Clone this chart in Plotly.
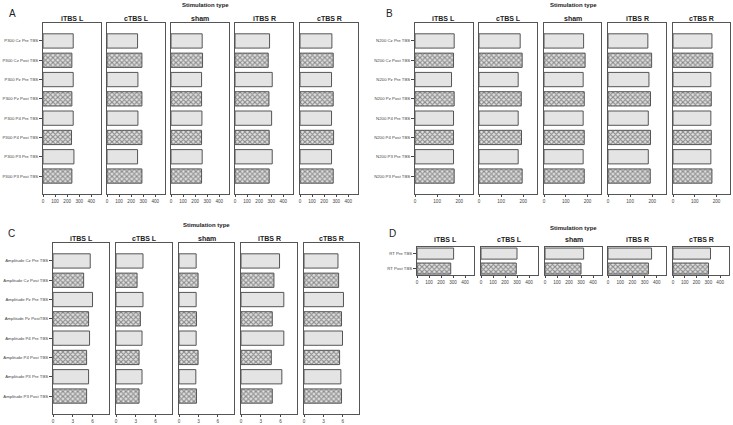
import plotly.graph_objects as go

W, H = 733, 425

stim_types = ["iTBS L", "cTBS L", "sham", "iTBS R", "cTBS R"]

labels_A = ["P300 Cz Pre TBS", "P300 Cz Post TBS", "P300 Pz Pre TBS", "P300 Pz Post TBS",
            "P300 P4 Pre TBS", "P300 P4 Post TBS", "P300 P3 Pre TBS", "P300 P3 Post TBS"]
labels_B = ["N200 Cz Pre TBS", "N200 Cz Post TBS", "N200 Pz Pre TBS", "N200 Pz Post TBS",
            "N200 P4 Pre TBS", "N200 P4 Post TBS", "N200 P3 Pre TBS", "N200 P3 Post TBS"]
labels_C = ["Amplitude Cz Pre TBS", "Amplitude Cz Post TBS", "Amplitude Pz Pre TBS", "Amplitude Pz PostTBS",
            "Amplitude P4 Pre TBS", "Amplitude P4 Post TBS", "Amplitude P3 Pre TBS", "Amplitude P3 Post TBS"]
labels_D = ["RT Pre TBS", "RT Post TBS"]

# Panel A: P300 latency
p300_itbsL = [250, 239, 250, 239, 250, 236, 256, 239]
p300_ctbsL = [253, 289, 256, 289, 256, 289, 253, 289]
p300_sham = [258, 261, 253, 253, 256, 253, 258, 253]
p300_itbsR = [286, 275, 308, 281, 303, 283, 308, 283]
p300_ctbsR = [264, 275, 261, 275, 261, 278, 261, 275]

# Panel B: N200 latency
n200_itbsL = [177, 174, 165, 177, 174, 174, 174, 177]
n200_ctbsL = [186, 195, 177, 191, 177, 192, 177, 195]
n200_sham = [182, 189, 180, 185, 180, 185, 180, 185]
n200_itbsR = [180, 197, 185, 192, 182, 192, 182, 191]
n200_ctbsR = [179, 183, 174, 176, 174, 176, 174, 179]

# Panel C: amplitude
amp_itbsL = [5.65, 4.65, 6.0, 5.4, 5.55, 5.1, 5.4, 5.1]
amp_ctbsL = [4.1, 3.2, 4.1, 3.7, 3.95, 3.5, 3.95, 3.5]
amp_sham = [2.65, 2.95, 2.65, 2.7, 2.65, 2.95, 2.6, 2.7]
amp_itbsR = [5.85, 5.0, 6.5, 4.75, 6.5, 4.6, 6.2, 4.75]
amp_ctbsR = [5.25, 5.35, 6.1, 5.8, 5.95, 5.5, 5.7, 5.8]

# Panel D: reaction time
rt_itbsL = [305, 281]
rt_ctbsL = [300, 294]
rt_sham = [322, 300]
rt_itbsR = [357, 331]
rt_ctbsR = [318, 301]

ticks_A = [0, 100, 200, 300, 400]
ticks_B = [0, 100, 200]
ticks_C = [0, 3, 6]
ticks_D = [0, 100, 200, 300, 400]

panels = [
    dict(letter="A", labels=labels_A, data=[p300_itbsL, p300_ctbsL, p300_sham, p300_itbsR, p300_ctbsR],
         xr=[0, 480], ticks=ticks_A,
         boxes=[(43, 101), (107, 165), (171, 229), (235, 293), (300, 358)], ypx=(23, 194),
         title_y=5, head_y=18, letter_xy=(12, 13), title_x=205),
    dict(letter="B", labels=labels_B, data=[n200_itbsL, n200_ctbsL, n200_sham, n200_itbsR, n200_ctbsR],
         xr=[0, 262], ticks=ticks_B,
         boxes=[(415, 473), (479, 537), (544, 601), (608, 666), (673, 730)], ypx=(23, 194),
         title_y=5, head_y=18, letter_xy=(389, 13), title_x=573),
    dict(letter="C", labels=labels_C, data=[amp_itbsL, amp_ctbsL, amp_sham, amp_itbsR, amp_ctbsR],
         xr=[0, 8.5], ticks=ticks_C,
         boxes=[(53, 109), (116, 172), (179, 234), (241, 297), (304, 359)], ypx=(243, 414),
         title_y=225, head_y=238, letter_xy=(11, 233), title_x=206),
    dict(letter="D", labels=labels_D, data=[rt_itbsL, rt_ctbsL, rt_sham, rt_itbsR, rt_ctbsR],
         xr=[0, 475], ticks=ticks_D,
         boxes=[(417, 474), (481, 538), (545, 602), (608, 666), (673, 729)], ypx=(247, 275),
         title_y=228, head_y=239, letter_xy=(392, 233), title_x=573),
]

FONT = "Liberation Sans, Arial, sans-serif"
fig = go.Figure()
layout = {}
annotations = []
idx = 0
for p in panels:
    n = len(p["labels"])
    if n == 8:
        yr = [7.93, -0.93]
    else:
        yr = [1.43, -0.44]
    for j, (vals, st) in enumerate(zip(p["data"], stim_types)):
        idx += 1
        xa = "x" if idx == 1 else f"x{idx}"
        ya = "y" if idx == 1 else f"y{idx}"
        shapes = ["" if "Pre" in lab else "x" for lab in p["labels"]]
        fig.add_trace(go.Bar(
            x=vals, y=p["labels"], orientation="h", xaxis=xa, yaxis=ya,
            width=0.74,
            marker=dict(color="#e4e4e4", line=dict(color="#555555", width=1),
                        pattern=dict(shape=shapes, fgcolor="#303030", bgcolor="#e4e4e4",
                                     size=3.5, solidity=0.55)),
            showlegend=False, hoverinfo="x+y",
        ))
        x0, x1 = p["boxes"][j]
        yt, yb = p["ypx"]
        kx = "xaxis" if idx == 1 else f"xaxis{idx}"
        ky = "yaxis" if idx == 1 else f"yaxis{idx}"
        layout[kx] = dict(domain=[x0 / W, x1 / W], anchor=ya, range=p["xr"], automargin=False,
                          tickvals=p["ticks"], ticks="outside", ticklen=2, tickcolor="#444",
                          showline=True, mirror=True, linecolor="#555", linewidth=1,
                          showgrid=False, zeroline=False,
                          tickfont=dict(size=4.6, color="#444", family=FONT), fixedrange=True)
        layout[ky] = dict(domain=[1 - yb / H, 1 - yt / H], anchor=xa, range=yr, automargin=False,
                          type="category", categoryorder="array", categoryarray=p["labels"],
                          showline=True, mirror=True, linecolor="#555", linewidth=1,
                          showgrid=False, zeroline=False,
                          ticks="outside" if j == 0 else "", ticklen=3, tickcolor="#444",
                          showticklabels=(j == 0),
                          tickfont=dict(size=4.3, color="#444", family=FONT), fixedrange=True)
        annotations.append(dict(text=f"<b>{st}</b>", x=(x0 + x1) / 2 / W, y=1 - p["head_y"] / H,
                                xref="paper", yref="paper", showarrow=False,
                                xanchor="center", yanchor="middle",
                                font=dict(size=7, color="#222", family=FONT)))
    annotations.append(dict(text="<b>Stimulation type</b>", x=p["title_x"] / W, y=1 - p["title_y"] / H,
                            xref="paper", yref="paper", showarrow=False,
                            xanchor="center", yanchor="middle",
                            font=dict(size=6, color="#222", family=FONT)))
    annotations.append(dict(text=p["letter"], x=p["letter_xy"][0] / W, y=1 - p["letter_xy"][1] / H,
                            xref="paper", yref="paper", showarrow=False,
                            xanchor="center", yanchor="middle",
                            font=dict(size=10, color="#222", family=FONT)))

fig.update_layout(
    width=W, height=H, margin=dict(l=0, r=0, t=0, b=0, autoexpand=False),
    paper_bgcolor="white", plot_bgcolor="white",
    barmode="overlay", annotations=annotations, **layout,
)

fig.write_html("out.html", config={"displayModeBar": False},
               post_script="document.body.style.margin='0';document.body.style.overflow='hidden';")
